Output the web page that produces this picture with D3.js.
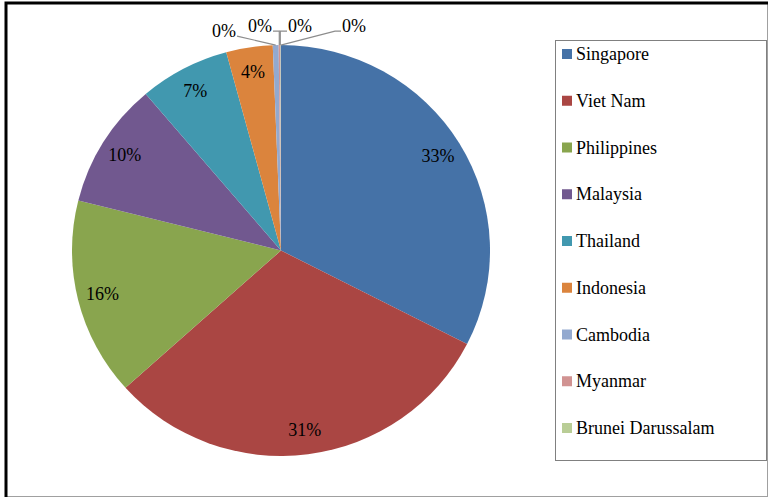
<!DOCTYPE html>
<meta charset="utf-8">
<body style="margin:0">
<svg width="769" height="498"></svg>
<script src="https://d3js.org/d3.v7.min.js"></script>
<script>

// share of total, in legend order (last entry has no room in the legend)
var countries = ["Singapore", "Viet Nam", "Philippines", "Malaysia", "Thailand",
                 "Indonesia", "Cambodia", "Myanmar", "Brunei Darussalam", "Lao PDR"];
var shares = [32.6, 30.9, 15.6, 9.9, 7.0, 3.6, 0.45, 0.1, 0.05, 0.03];
var colours = ["#4572a7", "#aa4643", "#89a54e", "#71588f", "#4198af",
               "#db843d", "#93a9cf", "#d19392", "#b9cd96", "#a99bbd"];

var serif = "'Liberation Serif'";

var svg = d3.select("svg"),
    width = +svg.attr("width"),
    height = +svg.attr("height");

// outer frame: heavy black top/left, thin grey right/bottom
svg.append("rect")
    .attr("x", 6.5).attr("y", 3.5)
    .attr("width", width - 8).attr("height", height - 5)
    .attr("fill", "#fff")
    .attr("stroke", "#a0a0a0")
    .attr("stroke-width", 1);
svg.append("path")
    .attr("d", "M6," + (height - 1) + "V3H" + (width - 1))
    .attr("fill", "none")
    .attr("stroke", "#000")
    .attr("stroke-width", 3);

var cx = 281, cy = 250.5, radius = 209, squash = 0.983;

var total = d3.sum(shares);
var data = countries.map(function(c, i) { return { name: c, value: shares[i], colour: colours[i] }; });

var pie = d3.pie()
    .sort(null)
    .value(function(d) { return d.value; });

var arc = d3.arc().innerRadius(0).outerRadius(radius);

var arcs = pie(data);

var g = svg.append("g")
    .attr("transform", "translate(" + cx + "," + cy + ") scale(1," + squash + ")");

g.selectAll("path.slice")
    .data(arcs)
  .enter().append("path")
    .attr("class", "slice")
    .attr("d", arc)
    .attr("fill", function(d) { return d.data.colour; });

var pct = function(d) { return Math.round(d.data.value / total * 100) + "%"; };

function label(sel) {
  return sel.attr("text-anchor", "middle")
      .style("font-family", serif)
      .style("font-size", "18px")
      .attr("fill", "#000");
}

// big slices: label inside, near the rim
var labelArc = d3.arc().innerRadius(radius * 0.88).outerRadius(radius * 0.88);
var big = arcs.filter(function(d) { return d.data.value / total > 0.02; });
var small = arcs.filter(function(d) { return d.data.value / total <= 0.02; });

svg.selectAll("text.inner")
    .data(big)
  .enter().append("text")
    .attr("class", "inner")
    .call(label)
    .attr("x", function(d) { return cx + labelArc.centroid(d)[0]; })
    .attr("y", function(d) { return cy + labelArc.centroid(d)[1] * squash + 6; })
    .text(pct);

// tiny slices: labels pushed above the pie with leader lines
var pieTop = cy - radius * squash;
var spots = [[-57, -8], [-21, -13], [19, -13], [73, -13]];

small.forEach(function(d, i) {
  var a = (d.startAngle + d.endAngle) / 2;
  var ax = cx + Math.sin(a) * radius,
      ay = cy - Math.cos(a) * radius * squash;
  var lx = cx + spots[i][0], ly = pieTop + spots[i][1];

  svg.append("text")
      .call(label)
      .attr("x", lx).attr("y", ly)
      .text(pct(d));

  var pts;
  if (i === 0) pts = [[lx + 13, ly - 1], [ax, ay]];
  else if (i === 1) pts = [[lx + 13, ly - 1], [ax, ly - 1], [ax, ay]];
  else if (i === 2) pts = [[lx - 13, ly - 1], [ax, ly - 1], [ax, ay]];
  else pts = [[lx - 13, ly - 1], [lx - 19, ly - 1], [ax, ay]];

  svg.append("path")
      .attr("d", d3.line()(pts))
      .attr("fill", "none")
      .attr("stroke", "#8c8c8c")
      .attr("stroke-width", 1.2);
});

// legend
var legendItems = data.slice(0, 9);
var lg = svg.append("g").attr("class", "legend");

lg.append("rect")
    .attr("x", 555.5).attr("y", 40.5)
    .attr("width", 211).attr("height", 420)
    .attr("fill", "#fff")
    .attr("stroke", "#808080");

var row = d3.scalePoint()
    .domain(legendItems.map(function(d) { return d.name; }))
    .range([54, 428]);

var item = lg.selectAll("g.item")
    .data(legendItems)
  .enter().append("g")
    .attr("class", "item")
    .attr("transform", function(d) { return "translate(0," + row(d.name) + ")"; });

item.append("rect")
    .attr("x", 562).attr("y", -5)
    .attr("width", 10).attr("height", 10)
    .attr("fill", function(d) { return d.colour; });

item.append("text")
    .attr("x", 576).attr("y", 6)
    .style("font-family", serif)
    .style("font-size", "18px")
    .attr("fill", "#000")
    .text(function(d) { return d.name; });

</script>
